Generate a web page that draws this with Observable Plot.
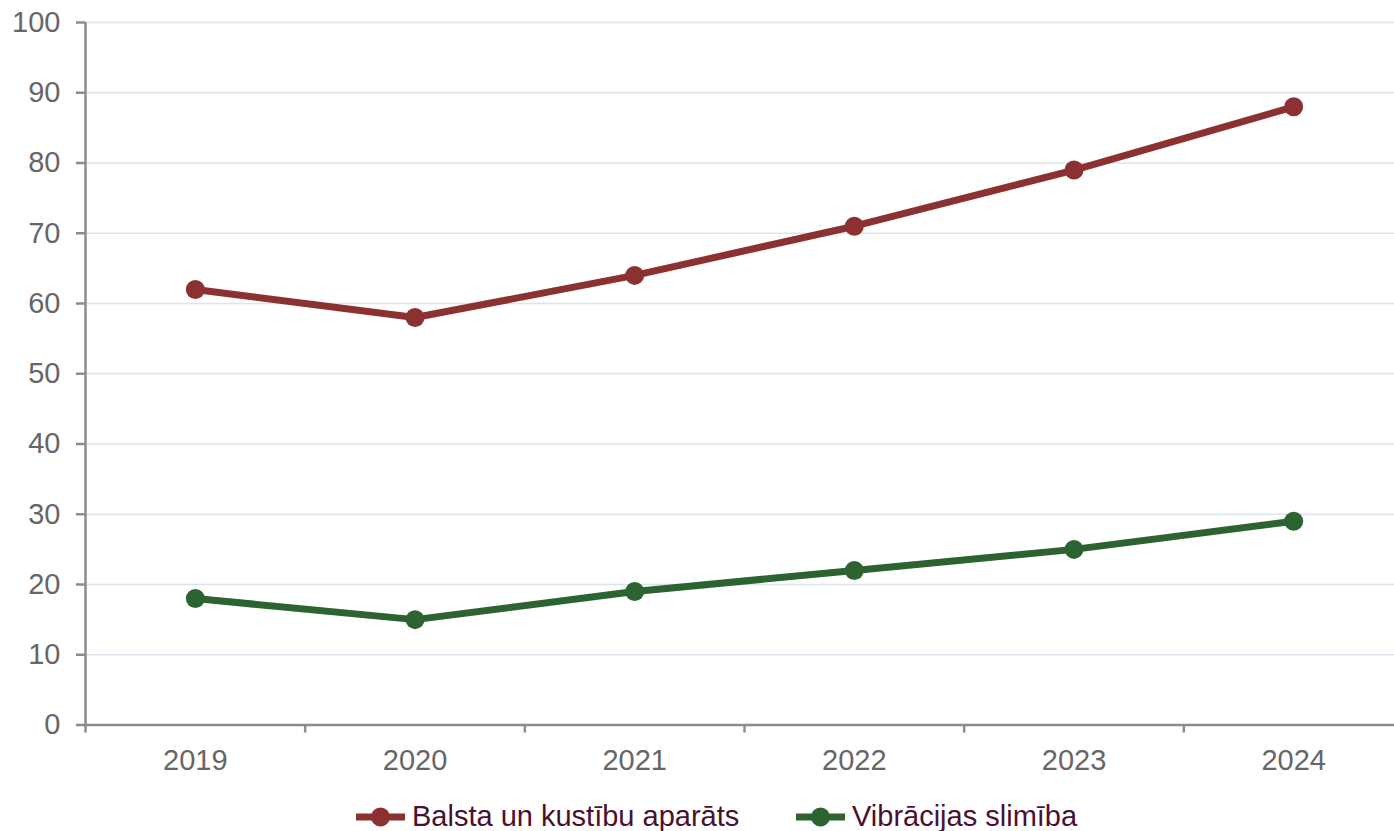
<!DOCTYPE html>
<html>
<head>
<meta charset="utf-8">
<script src="https://cdn.jsdelivr.net/npm/d3@7"></script>
<script src="https://cdn.jsdelivr.net/npm/@observablehq/plot@0.6"></script>
<style>
  html, body { margin: 0; padding: 0; background: #fff; overflow: hidden; }
  body { width: 1394px; height: 831px; font-family: "Liberation Sans", Arial, sans-serif; }
  #chart svg { display: block; }
  #legend { position: relative; height: 41px; }
  .item { position: absolute; top: 6px; height: 41px; display: flex; align-items: center; font-size: 29px; color: #4b1030; }
  .item svg { margin-right: 7px; display: block; }
</style>
</head>
<body>
<div id="chart"></div>
<div id="legend"></div>
<script>
const years = [2019, 2020, 2021, 2022, 2023, 2024];
const balsta = [62, 58, 64, 71, 79, 88];
const vibracijas = [18, 15, 19, 22, 25, 29];
const seriesNames = ["Balsta un kustību aparāts", "Vibrācijas slimība"];
const seriesColors = ["#8b3131", "#2d6331"];
const yTicks = [0, 10, 20, 30, 40, 50, 60, 70, 80, 90, 100];

const rows = [];
years.forEach((y, i) => {
  rows.push({year: y, value: balsta[i], series: seriesNames[0]});
  rows.push({year: y, value: vibracijas[i], series: seriesNames[1]});
});
const boundaries = years.map(y => y - 0.5).concat([years[years.length - 1] + 0.5]);
const axisGray = "#8c8c8c";

const chart = Plot.plot({
  width: 1394,
  height: 790,
  marginLeft: 85,
  marginRight: 0,
  marginTop: 22,
  marginBottom: 65.5,
  style: {fontFamily: "Liberation Sans, Arial, sans-serif", background: "#fff", overflow: "visible"},
  x: {type: "linear", domain: [boundaries[0], boundaries[boundaries.length - 1]], range: [85, 1403]},
  y: {domain: [0, 100]},
  color: {domain: seriesNames, range: seriesColors},
  marks: [
    Plot.ruleY(yTicks.filter(d => d > 0), {stroke: "#dde4ef", strokeWidth: 1.3}),
    Plot.axisY(yTicks, {tickSize: 9, tickPadding: 16, fontSize: 29, color: "#666", stroke: axisGray, strokeWidth: 2.5, tickFormat: d => String(d), label: null}),
    Plot.axisX(boundaries, {tickSize: 8, tickFormat: () => "", stroke: axisGray, strokeWidth: 2.5, label: null}),
    Plot.axisX(years, {tickSize: 0, tickPadding: 24, fontSize: 29, color: "#666", tickFormat: d => String(d), label: null}),
    Plot.ruleY([0], {stroke: axisGray, strokeWidth: 2.5}),
    Plot.ruleX([boundaries[0]], {y1: 0, y2: 100, stroke: axisGray, strokeWidth: 2.5}),
    Plot.line(rows, {x: "year", y: "value", stroke: "series", z: "series", strokeWidth: 7}),
    Plot.dot(rows, {x: "year", y: "value", fill: "series", r: 9.5})
  ]
});
document.getElementById("chart").appendChild(chart);

const legend = document.getElementById("legend");
const lefts = [356, 796];
seriesNames.forEach((name, i) => {
  const item = document.createElement("div");
  item.className = "item";
  item.style.left = lefts[i] + "px";
  item.innerHTML = `<svg width="49" height="20"><line x1="0" y1="10" x2="49" y2="10" stroke="${seriesColors[i]}" stroke-width="7"/><circle cx="24.5" cy="10" r="9.5" fill="${seriesColors[i]}"/></svg><span>${name}</span>`;
  legend.appendChild(item);
});
</script>
</body>
</html>
